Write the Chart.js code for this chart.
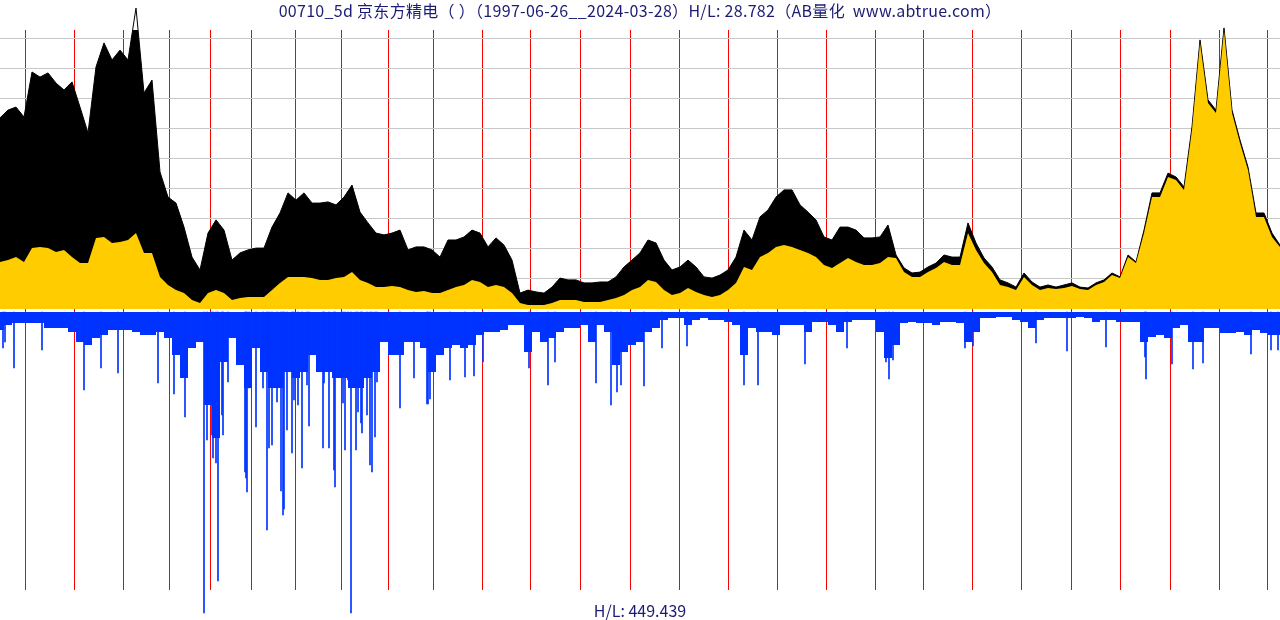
<!DOCTYPE html>
<html>
<head>
<meta charset="utf-8">
<script src="https://cdn.jsdelivr.net/npm/chart.js@4.4.0/dist/chart.umd.min.js"></script>
<style>
  body { margin:0; background:#fff; }
  #wrap { position:relative; width:1280px; height:620px; }
  .lbl { position:absolute; left:0; width:1280px; text-align:center; color:#1c1c74;
         font-family:"Noto Sans CJK SC","Noto Sans",sans-serif; font-size:16px; line-height:20px; white-space:pre; }
</style>
</head>
<body>
<div id="wrap">
  <canvas id="c" width="1280" height="620"></canvas>
  <div class="lbl" style="top:0px;letter-spacing:0.3px">00710_5d 京东方精电（ ）（1997-06-26__2024-03-28）H/L: 28.782（AB量化  www.abtrue.com）</div>
  <div class="lbl" style="top:600px">H/L: 449.439</div>
</div>
<script>
// one sample every 8 bars (weekly bars, ~1280 of them)
const STEP = 8

// bar index where each new year starts (1998 .. 2024)
const yearLines = [25,74,123,169,210,251,295,341,388,433,482,530,580,630,679,728,777,826,875,923,972,1021,1071,1120,1170,1219,1267]

// price grid lines
const priceGrid = [10,20,30,40,50,60,70,80,90]

// upper panel: high envelope (black) and close (yellow)
const highVals = [
  63.7,66.3,67.3,64.0,79.0,77.3,78.7,75.3,73.0,75.7,67.3,58.7,80.7,88.7,83.0,86.3,83.0,100.3,72.0,76.3,
  45.7,37.3,35.3,27.3,17.3,13.0,25.3,29.7,26.3,16.3,18.7,19.7,20.3,20.3,27.3,32.0,38.7,36.3,38.7,35.3,
  35.3,35.7,34.7,37.3,41.3,32.3,28.7,25.3,24.7,25.3,26.3,19.7,20.7,20.7,19.7,17.3,23.0,23.0,24.0,26.3,
  25.3,20.7,23.7,21.3,16.3,5.3,6.3,5.7,5.3,7.3,10.3,9.7,9.7,8.7,8.7,9.0,9.0,10.7,14.0,16.3,
  18.7,23.0,22.0,16.3,13.0,14.0,16.3,14.0,10.7,10.3,11.3,13.0,17.3,26.3,23.0,30.7,33.0,37.3,39.7,39.7,
  34.7,32.3,29.7,24.0,23.0,27.3,27.3,26.3,23.7,23.7,24.0,28.0,18.0,13.7,12.0,12.3,14.0,15.3,18.0,17.3,
  17.3,28.7,22.0,17.0,14.0,9.7,8.7,7.3,12.0,9.0,7.3,8.0,7.3,8.0,8.7,7.3,7.0,8.7,9.7,12.0,
  10.7,18.0,15.7,26.3,38.7,38.7,45.3,44.0,40.7,60.7,89.7,69.7,66.3,93.7,66.3,56.3,47.3,32.0,32.0,25.3,21.3
]
const closeVals = [
  15.7,16.3,17.3,15.7,20.3,20.7,20.3,19.0,19.7,17.3,15.3,15.3,23.7,24.0,22.0,22.3,23.0,25.3,18.7,18.7,
  10.7,8.0,6.3,5.3,3.0,2.0,5.3,6.3,5.3,3.0,3.7,4.0,4.0,4.0,6.3,8.7,10.7,10.7,10.7,10.3,
  9.7,9.7,10.3,10.7,12.3,9.7,8.7,7.3,7.3,7.7,7.3,6.3,5.7,6.0,5.3,5.3,6.3,7.3,8.0,9.7,
  9.0,7.3,8.0,7.3,5.3,2.0,1.3,1.3,1.3,2.0,3.0,3.0,3.0,2.3,2.3,2.3,3.0,3.7,4.7,6.3,
  7.3,9.7,9.0,6.3,4.7,5.3,7.0,5.7,4.7,4.0,4.7,6.3,8.7,14.0,13.0,17.3,18.7,20.7,21.3,20.7,
  19.7,18.7,17.3,14.7,13.7,15.3,17.0,15.7,14.7,14.7,15.3,17.3,17.0,12.3,10.7,10.7,12.3,13.7,15.7,14.7,
  14.7,25.3,19.7,15.3,12.3,8.0,7.3,6.3,10.7,8.0,6.3,7.0,6.7,7.0,7.7,6.7,6.3,8.0,9.0,11.3,
  10.3,17.3,15.3,25.3,37.3,37.3,44.0,43.0,39.7,59.7,88.7,68.7,65.3,92.7,65.3,55.3,46.3,30.7,30.7,24.0,20.7
]

// lower panel: typical volume depth, plus the tallest single bars
const volBase = [
  18,13,11,11,11,11,16,16,16,20,30,33,26,23,18,18,18,20,23,23,
  20,26,43,66,36,30,93,126,50,26,53,76,36,60,76,76,60,66,60,43,
  60,60,66,66,76,76,66,60,30,43,43,30,30,36,60,43,36,33,36,33,
  23,20,20,18,13,13,40,20,30,26,20,16,16,13,30,13,20,53,40,33,
  30,20,16,8,6,6,13,8,6,8,8,10,13,43,16,20,20,23,13,13,
  13,20,10,10,13,20,10,8,8,8,20,46,33,11,10,11,11,13,10,10,
  11,30,20,6,6,5,5,8,10,16,8,6,6,6,6,5,6,10,8,8,
  10,10,10,30,25,23,26,16,13,30,30,16,16,21,21,20,23,18,21,23,23
]
const spikeX = [3,5,14,42,84,101,118,158,174,185,204,207,212,213,216,218,222,223,228,245,246,247,249,256,263,267,269,272,277,
  281,283,284,287,292,294,298,302,307,309,323,324,329,334,335,343,345,348,351,356,358,361,362,367,370,372,375,377,
  400,414,427,428,430,450,465,474,483,529,548,555,596,611,617,621,644,662,
  687,744,758,805,847,886,889,893,965,973,1036,1067,1106,1145,1146,1172,1193,1203,1251,1271,1278]
const spikeVal = [36,30,56,38,78,56,61,71,82,105,301,128,123,146,151,269,103,123,70,160,166,180,76,115,76,218,136,133,90,
  179,203,197,118,141,88,93,156,73,114,136,71,136,158,175,91,138,68,301,138,100,111,121,103,153,160,125,70,
  96,66,92,92,87,68,65,64,50,56,73,50,71,93,80,73,74,36,
  34,73,73,52,36,50,67,48,36,34,31,39,35,45,67,52,57,51,42,38,38]

const pts = arr => arr.map((v, i) => ({x: i * STEP, y: v}))

new Chart(document.getElementById("c"), {
    data: {
        datasets: [
            {
                type: "bar",
                data: spikeX.map((x, i) => ({x: x, y: spikeVal[i]})),
                yAxisID: "vol",
                backgroundColor: "#0033ff",
                barThickness: 1,
                clip: false,
                order: 0
            },
            {
                type: "line",
                data: pts(volBase),
                yAxisID: "vol",
                stepped: "middle",
                fill: "origin",
                backgroundColor: "#0033ff",
                borderWidth: 0,
                pointRadius: 0,
                order: 1
            },
            {
                type: "line",
                data: pts(closeVals),
                yAxisID: "price",
                fill: "origin",
                backgroundColor: "#ffcc00",
                borderWidth: 0,
                pointRadius: 0,
                order: 2
            },
            {
                type: "line",
                data: pts(highVals),
                yAxisID: "price",
                fill: "origin",
                backgroundColor: "#000000",
                borderColor: "#000000",
                borderWidth: 1,
                pointRadius: 0,
                clip: false,
                order: 3
            }
        ]
    },
    options: {
        responsive: false,
        animation: false,
        layout: { padding: { top: 30, bottom: 30, left: 0, right: 0 } },
        plugins: { legend: { display: false }, tooltip: { enabled: false } },
        scales: {
            x: {
                type: "linear",
                min: 0,
                max: 1280,
                offset: false,
                ticks: { display: false },
                border: { display: false },
                grid: { color: "#ff0000", drawTicks: false, offset: false },
                afterBuildTicks: s => { s.ticks = yearLines.map(v => ({value: v})) },
                afterFit: s => { s.height = 0 }
            },
            price: {
                type: "linear",
                position: "left",
                min: -93.67,
                max: 93,
                ticks: { display: false },
                border: { display: false },
                grid: { color: "#c8c8c8", drawTicks: false },
                afterBuildTicks: s => { s.ticks = priceGrid.map(v => ({value: v})) },
                afterFit: s => { s.width = 0 }
            },
            vol: {
                type: "linear",
                display: false,
                reverse: true,
                min: -282,
                max: 278
            }
        }
    }
})
</script>
</body>
</html>
